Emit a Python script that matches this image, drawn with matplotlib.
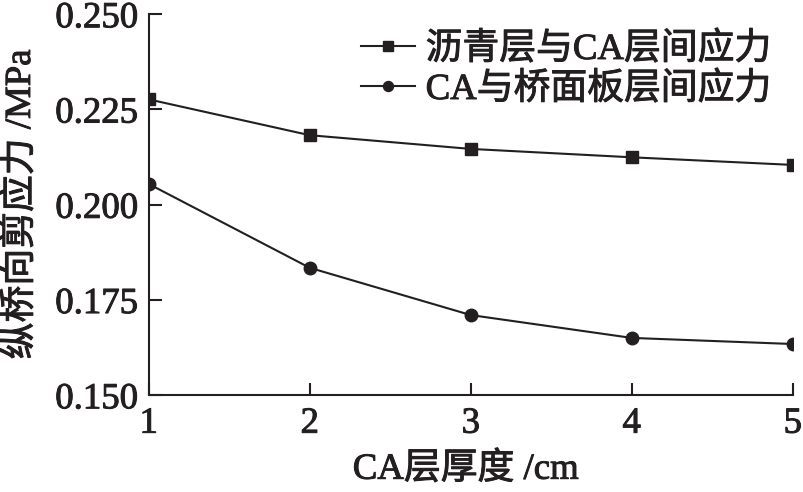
import matplotlib
matplotlib.use('Agg')
import matplotlib.pyplot as plt
import matplotlib.patheffects as pe

plt.rcParams['font.family'] = ['Liberation Serif', 'Noto Sans CJK SC']

# data
thickness = [1, 2, 3, 4, 5]
asphalt_ca = [0.2276, 0.2182, 0.2146, 0.2124, 0.2104]
ca_deck = [0.2054, 0.1834, 0.1710, 0.1650, 0.1634]
series_names = ['沥青层与CA层间应力', 'CA与桥面板层间应力']
yticks = [0.150, 0.175, 0.200, 0.225, 0.250]

fig = plt.figure(figsize=(8.04, 4.92), dpi=100)
ax = fig.add_axes([0.185, 0.197, 0.801, 0.7745])

col = '#231f20'
fs = 26.5
ax.plot(thickness, asphalt_ca, '-s', color=col, lw=1.5, ms=9, label=series_names[0])
ax.plot(thickness, ca_deck, '-o', color=col, lw=1.5, ms=9, label=series_names[1])

ax.set_xlim(1, 5)
ax.set_ylim(0.150, 0.250)
ax.set_xticks(thickness)
ax.set_yticks(yticks)
ax.set_yticklabels(['%.3f' % v for v in yticks])

for s in ['top', 'right']:
    ax.spines[s].set_visible(False)
for s in ['left', 'bottom']:
    ax.spines[s].set_linewidth(1.5)
    ax.spines[s].set_color(col)

ax.tick_params(direction='in', length=9, width=1.5, labelsize=fs, colors=col, pad=8)

ax.set_xlabel('CA层厚度 /cm', fontsize=fs, color=col)
ax.set_ylabel('纵桥向剪应力 /MPa', fontsize=fs, color=col)
ax.xaxis.set_label_coords(0.492, -0.15)
ax.yaxis.set_label_coords(-0.172, 0.5)

leg = ax.legend(loc='upper right', bbox_to_anchor=(1.0, 1.01), frameon=False,
                fontsize=fs, handlelength=1.45, handletextpad=0.3,
                labelspacing=0.15, borderaxespad=0.2, markerscale=0.8)
for t in leg.get_texts():
    t.set_color(col)

# the scan's text is heavier than a plain regular weight
heavy = [pe.withStroke(linewidth=0.7, foreground=col)]
texts = ax.get_xticklabels() + ax.get_yticklabels() + leg.get_texts()
texts += [ax.xaxis.label, ax.yaxis.label]
for t in texts:
    t.set_path_effects(heavy)

fig.savefig('out.png', dpi=100)
